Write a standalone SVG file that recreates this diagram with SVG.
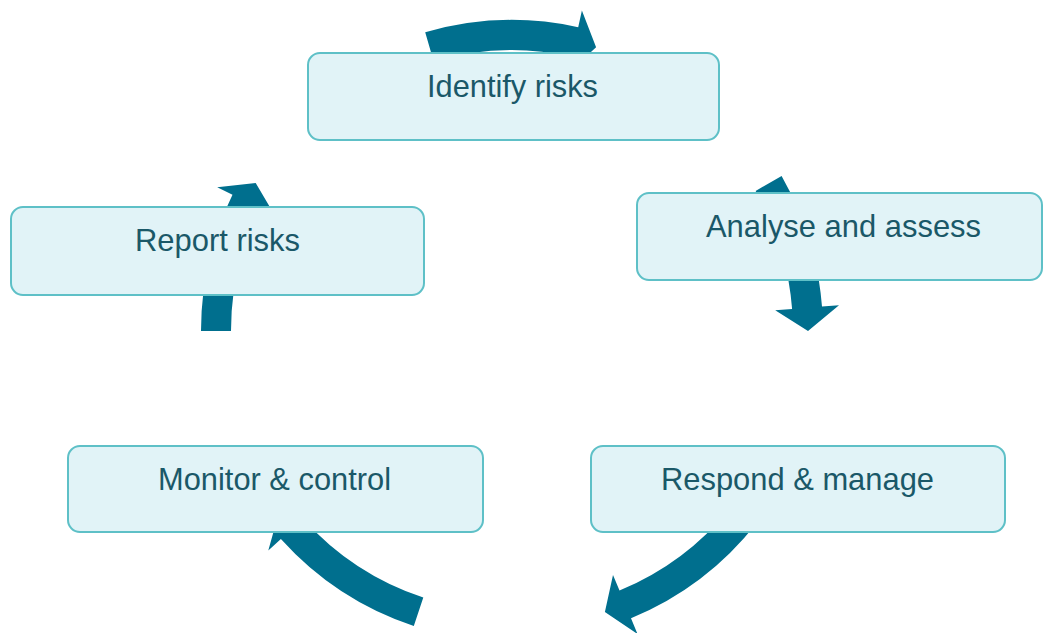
<svg xmlns="http://www.w3.org/2000/svg" width="1043" height="633" viewBox="0 0 1043 633">
<style>
.arrow{fill:#006F8E;stroke:none}
.box{fill:#E1F3F7;stroke:#5EC0C7;stroke-width:2}
.lbl{font-family:"Liberation Sans",Arial,sans-serif;font-size:32px;fill:#1A5868;text-anchor:middle}
</style>
<rect width="1043" height="633" fill="#FFFFFF"/>
<g id="connectors">
<path class="arrow" d="M425.2,32.3 A311,311 0 0 1 578.2,27.2 L581.9,10.5 L596.1,47.2 L568.2,73.1 L571.9,56.5 A281,281 0 0 0 433.6,61.2 Z"/>
<path class="arrow" d="M781.6,176 A311,311 0 0 1 822,306.6 L839,305.3 L808,331 L775.2,310.3 L792.1,308.9 A281,281 0 0 0 755.6,190.9 Z"/>
<path class="arrow" d="M757.1,522.5 A311,311 0 0 1 631,618.3 L637.5,634 L604.9,612 L613,574.9 L619.5,590.6 A281,281 0 0 0 733.4,504 Z"/>
<path class="arrow" d="M413.8,626.1 A311,311 0 0 1 280.9,539.1 L268.3,550.5 L278.7,513.2 L315.8,507.6 L303.2,519 A281,281 0 0 0 423.3,597.6 Z"/>
<path class="arrow" d="M201,331 A311,311 0 0 1 232.5,194.7 L217.2,187.2 L255.7,183 L274.7,215.3 L259.4,207.8 A281,281 0 0 0 231,331 Z"/>
</g>
<g id="node-identify">
<rect class="box" x="308" y="53" width="411" height="87" rx="12"/>
<text class="lbl" x="512.5" y="97" textLength="171" lengthAdjust="spacingAndGlyphs">Identify risks</text>
</g>
<g id="node-analyse">
<rect class="box" x="637" y="193" width="405" height="87" rx="12"/>
<text class="lbl" x="843.5" y="237" textLength="275" lengthAdjust="spacingAndGlyphs">Analyse and assess</text>
</g>
<g id="node-respond">
<rect class="box" x="591" y="446" width="414" height="86" rx="12"/>
<text class="lbl" x="797.5" y="490" textLength="273" lengthAdjust="spacingAndGlyphs">Respond &amp; manage</text>
</g>
<g id="node-monitor">
<rect class="box" x="68" y="446" width="415" height="86" rx="12"/>
<text class="lbl" x="274.5" y="490" textLength="233" lengthAdjust="spacingAndGlyphs">Monitor &amp; control</text>
</g>
<g id="node-report">
<rect class="box" x="11" y="207" width="413" height="88" rx="12"/>
<text class="lbl" x="217.5" y="251" textLength="165" lengthAdjust="spacingAndGlyphs">Report risks</text>
</g>
</svg>
